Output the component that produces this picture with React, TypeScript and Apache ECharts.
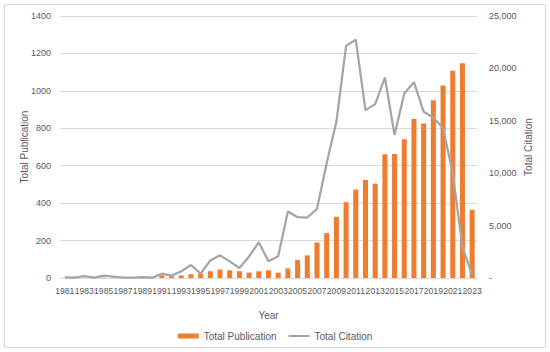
import React, { useEffect, useRef } from "react";
import * as echarts from "echarts";

const years: string[] = [];
for (let y = 1981; y <= 2023; y++) years.push(String(y));

const publications = [
  1, 1, 2, 1, 2, 1, 1, 1, 2, 1,
  14, 9, 14, 20, 22, 36, 45, 41, 36, 29,
  36, 41, 28, 51, 96, 121, 190, 240, 327, 405,
  472, 524, 504, 661, 663, 742, 849, 826, 950, 1028,
  1108, 1147, 364,
];

const citations = [
  63, 30, 190, 30, 220, 130, 30, 30, 95, 30,
  410, 220, 630, 1240, 410, 1680, 2160, 1590, 950, 2060,
  3420, 1590, 2080, 6350, 5800, 5770, 6600, 10950, 14900, 22150,
  22750, 16020, 16590, 19130, 13640, 17610, 18690, 15860, 15320, 14280,
  9990, 2950, 320,
];

const leftTicks = { min: 0, max: 1400, interval: 200 };
const rightTicks = { min: 0, max: 25000, interval: 5000 };

const FONT = "'Liberation Sans', 'Open Sans', sans-serif";
const TXT = "#595959";

export default function App() {
  const ref = useRef<HTMLDivElement>(null);
  useEffect(() => {
    if (!ref.current) return;
    const chart = echarts.init(ref.current, null, { renderer: "svg" });
    chart.setOption({
      animation: false,
      backgroundColor: "#ffffff",
      textStyle: { fontFamily: FONT },
      graphic: [
        {
          type: "rect",
          shape: { x: 4.5, y: 4.5, width: 541, height: 343 },
          style: { fill: "none", stroke: "#D9D9D9", lineWidth: 1 },
          silent: true,
        },
      ],
      grid: { left: 60, right: 73, top: 16, bottom: 74 },
      legend: {
        left: "center",
        top: 326,
        itemGap: 12,
        itemWidth: 21,
        itemHeight: 5,
        textStyle: { color: TXT, fontSize: 10, fontFamily: FONT },
        data: [
          { name: "Total Publication", icon: "rect" },
          { name: "Total Citation", icon: "path://M0,0H21V2H0Z" },
        ],
      },
      xAxis: {
        type: "category",
        data: years,
        name: "Year",
        nameLocation: "middle",
        nameGap: 32,
        nameTextStyle: { color: TXT, fontSize: 10, fontFamily: FONT },
        axisTick: { show: false },
        axisLine: { lineStyle: { color: "#D9D9D9" } },
        axisLabel: {
          interval: 1,
          color: TXT,
          fontSize: 8.6,
          fontFamily: FONT,
          margin: 8,
        },
      },
      yAxis: [
        {
          type: "value",
          ...leftTicks,
          name: "Total Publication",
          nameLocation: "middle",
          nameGap: 31,
          nameMoveOverlap: false,
          nameTextStyle: { color: TXT, fontSize: 10, fontFamily: FONT },
          axisLabel: {
            color: TXT,
            fontSize: 9,
            fontFamily: FONT,
            margin: 9,
            formatter: (v: number) => String(v),
          },
          axisLine: { show: false },
          axisTick: { show: false },
          splitLine: { lineStyle: { color: "#D9D9D9" } },
        },
        {
          type: "value",
          ...rightTicks,
          name: "Total Citation",
          nameLocation: "middle",
          nameGap: 46,
          nameMoveOverlap: false,
          nameTextStyle: { color: TXT, fontSize: 10, fontFamily: FONT },
          axisLabel: {
            color: TXT,
            fontSize: 9,
            fontFamily: FONT,
            margin: 12,
            formatter: (v: number) => (v === 0 ? "-" : v.toLocaleString("en-US")),
          },
          axisLine: { show: false },
          axisTick: { show: false },
          splitLine: { show: false },
        },
      ],
      series: [
        {
          name: "Total Publication",
          type: "bar",
          data: publications,
          yAxisIndex: 0,
          barWidth: "52%",
          itemStyle: { color: "#ED7D31" },
        },
        {
          name: "Total Citation",
          type: "line",
          data: citations,
          yAxisIndex: 1,
          symbol: "none",
          lineStyle: { color: "#A5A5A5", width: 2.25 },
          itemStyle: { color: "#A5A5A5" },
        },
      ],
    });
    return () => chart.dispose();
  }, []);
  return (
    <div
      ref={ref}
      style={{ position: "fixed", left: 0, top: 0, width: 550, height: 352 }}
    />
  );
}
